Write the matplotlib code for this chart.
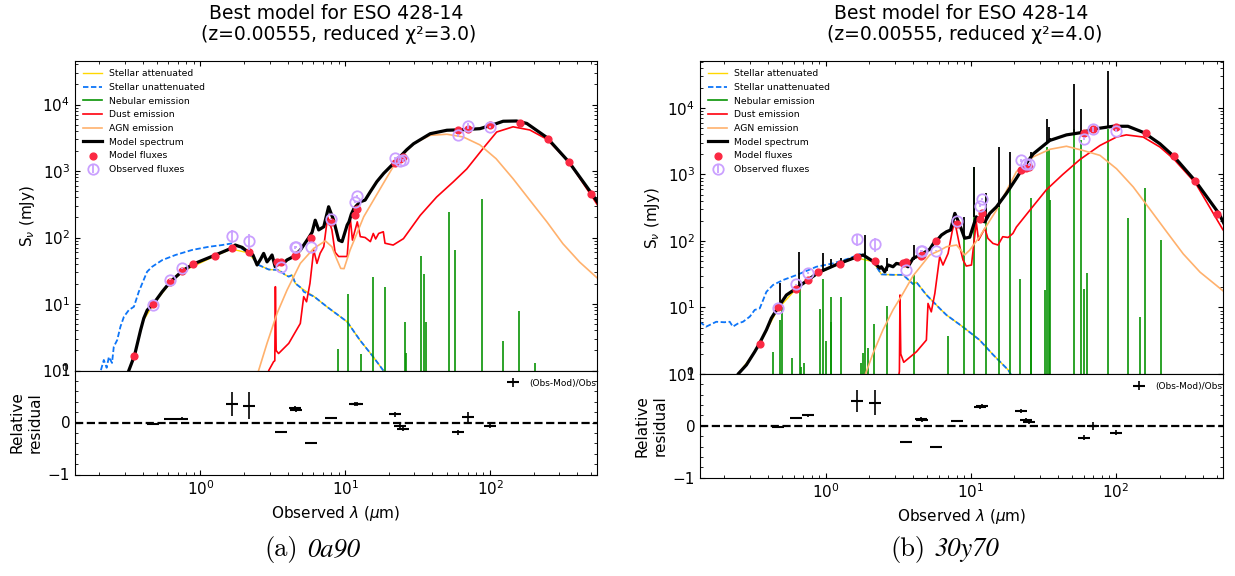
import matplotlib
matplotlib.use("Agg")
import matplotlib.pyplot as plt
from matplotlib.ticker import AutoMinorLocator
from matplotlib.lines import Line2D

# ---------------- photometric bands (same galaxy in both panels) ----------------
obs_lam = [0.47, 0.62, 0.75, 1.65, 2.17, 3.6, 4.5, 4.6, 5.8, 8.0, 11.6, 12.0,
           22.0, 24.0, 25.0, 60.0, 70.0, 100.0]
mod_lam = [0.35, 0.47, 0.62, 0.75, 0.89, 1.25, 1.65, 2.17, 3.4, 3.6, 4.5, 4.6, 5.8,
           8.0, 11.6, 12.0, 22.0, 24.0, 25.0, 60.0, 70.0, 100.0, 160.0, 250.0, 350.0, 500.0]

# ---------------- panel (a) 0a90 ----------------
A_title = "Best model for ESO 428-14\n (z=0.00555, reduced χ²=3.0)"
A_cap_tag = "(a)"
A_cap_name = "0a90"
A_mod_flux = [1.67, 10.0, 21.6, 31.8, 40.0, 52.7, 68.8, 60.4, 42.4, 43.0, 52.0, 54.0, 100.0,
              172.0, 220.0, 265.0, 1320.0, 1500.0, 1600.0, 4130.0, 4330.0, 4900.0, 5320.0,
              3020.0, 1365.0, 451.0]
A_obs_flux = [9.7, 23.2, 34.2, 107.0, 89.0, 36.1, 71.0, 72.0, 72.0, 187.0, 341.0, 420.0,
              1550.0, 1410.0, 1440.0, 3440.0, 4750.0, 4600.0]
A_resid = [-0.03, 0.07, 0.07, 0.355, 0.32, -0.19, 0.27, 0.25, -0.39, 0.08, 0.355, 0.355,
           0.155, -0.065, -0.12, -0.19, 0.11, -0.065]
A_rel_err = [0.01, 0.01, 0.03, 0.23, 0.26, 0.01, 0.04, 0.04, 0.01, 0.015, 0.04, 0.04,
             0.04, 0.04, 0.04, 0.05, 0.10, 0.05]

A_spec_lam = [0.29, 0.32, 0.35, 0.386, 0.406, 0.429, 0.472, 0.544, 0.62, 0.755, 0.895, 1.22,
              1.63, 1.74, 1.94, 2.13, 2.3, 2.46, 2.6, 2.73, 2.88, 3.0, 3.12, 3.28, 3.5, 3.7,
              3.96, 4.4, 4.9, 5.6, 5.9, 6.2, 6.55, 7.1, 7.67, 8.3, 9.0, 9.5, 10.3, 10.6, 11.0,
              11.5, 12.1, 12.7, 13.7, 14.9, 16.5, 18.4, 22.7, 26.5, 29.6, 38.6, 50.3, 65.2,
              85.0, 105.0, 123.0, 152.0, 179.0, 246.0, 350.0, 505.0, 600.0]
A_spec = [0.5, 1.0, 1.67, 4.06, 6.1, 8.1, 10.0, 15.3, 21.6, 31.8, 40.0, 52.7,
          68.8, 77.0, 71.0, 60.4, 55.0, 38.6, 47.0, 57.7, 43.0, 48.0, 54.6, 36.3, 43.0, 40.0,
          46.0, 51.8, 65.0, 100.0, 120.0, 182.0, 130.0, 145.0, 290.0, 183.0, 91.5, 86.7, 154.0,
          172.0, 224.0, 275.0, 310.0, 345.0, 365.0, 490.0, 690.0, 920.0, 1460.0, 2080.0, 2570.0,
          3640.0, 4100.0, 4180.0, 4330.0, 4970.0, 5600.0, 5650.0, 5200.0, 3200.0, 1365.0,
          451.0, 260.0]

A_unatt_lam = [0.19, 0.205, 0.215, 0.225, 0.233, 0.245, 0.252, 0.266, 0.28, 0.296, 0.32, 0.347,
               0.375, 0.396, 0.428, 0.464, 0.544, 0.672, 0.876, 1.14, 1.41, 1.65, 1.84, 2.15,
               2.52, 2.96, 3.46, 3.86, 4.07, 4.29, 4.52, 5.03, 5.16, 6.1, 7.46, 10.3, 12.6,
               15.6, 18.3, 20.0]
A_unatt = [0.6, 1.0, 1.44, 1.1, 1.6, 1.3, 2.28, 2.87, 4.55, 6.44, 8.1, 9.1,
           15.3, 20.4, 30.6, 36.4, 45.7, 54.6, 65.0, 72.5, 77.0, 81.6, 72.5, 59.0,
           38.6, 33.0, 32.5, 27.3, 25.8, 27.3, 20.4, 17.0, 15.3, 12.9, 9.1, 5.4, 2.87,
           1.6, 1.0, 0.7]

A_att_lam = [0.3, 0.32, 0.35, 0.4, 0.472, 0.62, 0.755, 1.22, 1.63, 2.13, 2.52, 2.96, 3.46,
             3.86, 4.07, 4.29, 4.52, 5.03, 6.1, 7.46, 10.3, 12.6, 15.6, 18.3, 20.0]
A_att = [0.5, 1.0, 1.6, 5.5, 9.8, 21.0, 31.0, 51.0, 67.0, 59.0, 38.6, 33.0, 32.5,
         27.3, 25.8, 27.3, 20.4, 17.0, 12.9, 9.1, 5.4, 2.87, 1.6, 1.0, 0.7]

A_agn_lam = [2.4, 2.52, 2.88, 3.38, 3.96, 4.89, 6.05, 7.28, 8.08, 8.7, 9.3, 9.8, 10.8, 13.4,
             18.3, 22.7, 29.6, 38.6, 50.3, 65.2, 85.0, 110.0, 144.0, 188.0, 247.0, 318.0,
             415.0, 556.0, 600.0]
A_agn = [0.7, 1.0, 2.56, 7.25, 16.2, 40.8, 68.5, 89.0, 72.5, 48.0, 34.3, 34.0, 65.0, 205.0,
         650.0, 1440.0, 2570.0, 3440.0, 3570.0, 3250.0, 2470.0, 1530.0, 766.0, 364.0, 171.0,
         80.7, 42.7, 24.0, 21.0]

A_dust_lam = [2.9, 2.96, 3.2, 3.26, 3.29, 3.33, 3.46, 4.07, 4.89, 5.16, 5.4, 5.7, 6.05, 6.37,
              6.7, 7.1, 7.55, 8.08, 8.5, 9.0, 10.3, 10.8, 11.2, 12.1, 12.7, 13.7, 14.9, 15.6,
              16.2, 17.0, 18.3, 18.8, 21.4, 25.2, 32.9, 42.7, 55.6, 69.0, 91.0, 111.0, 144.0,
              188.0, 247.0, 350.0, 517.0, 600.0]
A_dust = [0.6, 1.0, 1.36, 1.4, 18.2, 2.0, 1.8, 2.56, 5.1, 12.9, 10.8, 20.4, 65.0, 40.8,
          57.8, 72.5, 205.0, 130.0, 60.0, 51.8, 51.8, 205.0, 91.5, 172.0, 103.0, 100.0, 86.7,
          115.0, 95.0, 115.0, 122.0, 82.0, 77.0, 96.0, 215.0, 406.0, 685.0, 1075.0, 2290.0,
          3860.0, 4620.0, 4140.0, 3000.0, 1365.0, 383.0, 230.0]

A_neb_lam = [8.9, 10.5, 12.8, 15.5, 18.7, 25.9, 26.1, 33.5, 34.8, 35.8, 51.8, 57.3, 88.4,
             121.9, 157.7, 205.0]
A_neb = [2.1, 14.0, 1.77, 25.8, 18.0, 5.4, 1.85, 52.6, 28.0, 5.3, 244.0, 66.0, 382.0,
         2.77, 7.85, 1.31]

A_spike_lam = []
A_spike_base = []
A_spike_top = []

# ---------------- panel (b) 30y70 ----------------
B_title = "Best model for ESO 428-14\n (z=0.00555, reduced χ²=4.0)"
B_cap_tag = "(b)"
B_cap_name = "30y70"
B_mod_flux = [2.8, 10.0, 19.0, 25.6, 33.8, 44.7, 56.9, 49.5, 46.0, 48.0, 60.0, 62.0, 100.0,
              182.0, 214.0, 261.0, 1170.0, 1270.0, 1310.0, 4260.0, 4790.0, 5150.0, 4260.0,
              1870.0, 790.0, 257.0]
B_obs_flux = [9.8, 22.3, 32.7, 106.0, 90.0, 36.6, 70.6, 70.6, 71.5, 200.0, 336.0, 427.0,
              1630.0, 1440.0, 1420.0, 3460.0, 4790.0, 4560.0]
B_resid = [-0.02, 0.16, 0.2, 0.48, 0.45, -0.31, 0.14, 0.12, -0.41, 0.1, 0.36, 0.39,
           0.28, 0.11, 0.08, -0.23, 0.0, -0.13]
B_rel_err = [0.01, 0.01, 0.03, 0.22, 0.25, 0.01, 0.04, 0.04, 0.01, 0.015, 0.04, 0.04,
             0.04, 0.04, 0.04, 0.05, 0.08, 0.05]

B_spec_lam = [0.23, 0.249, 0.284, 0.324, 0.347, 0.39, 0.422, 0.469, 0.536, 0.618, 0.748, 0.895,
              1.2, 1.61, 1.81, 2.12, 2.36, 2.42, 2.55, 2.69, 2.91, 3.07, 3.24, 3.36, 3.69, 4.0,
              4.45, 5.21, 5.67, 5.8, 6.28, 6.8, 7.25, 7.76, 8.4, 9.07, 9.83, 10.9, 11.5, 12.5,
              13.5, 15.0, 17.6, 20.6, 22.4, 26.9, 35.0, 45.6, 57.4, 73.4, 95.6, 121.0, 156.0,
              201.0, 251.0, 354.0, 514.0, 600.0]
B_spec = [0.6, 1.0, 1.37, 2.16, 2.8, 4.6, 6.9, 10.0, 15.4, 19.0, 25.6, 33.8,
          44.7, 56.9, 61.6, 49.5, 38.9, 41.0, 34.4, 43.6, 41.0, 46.0, 45.0, 46.0, 41.0, 55.0,
          61.0, 75.0, 100.0, 100.0, 123.0, 138.0, 146.0, 260.0, 174.0, 110.0, 114.0, 231.0,
          205.0, 194.0, 260.0, 325.0, 520.0, 875.0, 1170.0, 2040.0, 3250.0, 3940.0, 4260.0,
          4890.0, 5310.0, 5310.0, 4260.0, 2900.0, 1870.0, 790.0, 257.0, 130.0]

B_unatt_lam = [0.135, 0.15, 0.176, 0.2, 0.218, 0.229, 0.25, 0.269, 0.3, 0.324, 0.351, 0.37,
               0.39, 0.433, 0.508, 0.628, 0.863, 1.12, 1.46, 1.72, 2.12, 2.42, 2.91, 3.41,
               4.0, 4.22, 4.94, 6.1, 6.8, 8.83, 11.5, 14.2, 18.1, 20.0]
B_unatt = [6.1, 5.15, 6.1, 6.0, 6.1, 5.15, 5.8, 6.1, 7.3, 9.2, 9.7, 12.9,
           17.2, 21.8, 25.9, 30.7, 41.0, 46.0, 55.0, 63.6, 49.0, 31.5, 31.0, 31.0,
           22.5, 24.0, 15.5, 9.7, 7.7, 5.1, 3.24, 1.96, 1.15, 0.8]

B_att_lam = [0.23, 0.249, 0.3, 0.347, 0.39, 0.469, 0.618, 0.748, 0.895, 1.2, 1.61, 2.12, 2.42,
             2.91, 3.41, 4.0, 4.22, 4.94, 6.1, 6.8, 8.83, 11.5, 14.2, 18.1, 20.0]
B_att = [0.6, 1.0, 1.7, 2.7, 4.5, 9.6, 18.5, 25.0, 33.0, 44.0, 56.0, 49.0, 31.5,
         31.0, 31.0, 22.5, 24.0, 15.5, 9.7, 7.7, 5.1, 3.24, 1.96, 1.15, 0.8]

B_agn_lam = [1.8, 1.88, 2.12, 2.48, 2.91, 3.41, 4.0, 4.45, 5.21, 6.1, 6.8, 7.98, 9.07, 9.83,
             11.5, 15.0, 20.6, 26.9, 35.0, 45.6, 59.3, 77.6, 101.0, 131.6, 171.0, 224.0,
             291.0, 380.0, 544.0, 600.0]
B_agn = [0.8, 1.0, 2.05, 4.6, 9.2, 16.3, 30.0, 40.0, 61.6, 72.0, 82.0, 87.0, 61.6, 73.0,
         116.0, 290.0, 1100.0, 1840.0, 2390.0, 2660.0, 2300.0, 1940.0, 1220.0, 650.0, 303.0,
         137.0, 64.0, 34.0, 18.0, 15.0]

B_dust_lam = [3.1, 3.2, 3.22, 3.25, 3.29, 3.45, 4.22, 4.94, 5.07, 5.34, 5.65, 6.1, 6.43, 6.97,
              7.47, 7.76, 8.4, 8.83, 9.3, 10.1, 10.9, 11.3, 12.5, 13.1, 14.2, 15.4, 16.6, 18.1,
              19.5, 20.6, 25.5, 33.2, 43.0, 56.5, 77.6, 101.0, 118.0, 154.0, 201.0, 251.0,
              354.0, 544.0, 600.0]
B_dust = [0.6, 1.0, 1.1, 15.4, 2.0, 1.5, 2.16, 3.24, 11.5, 8.6, 16.3, 58.0, 43.5, 65.0,
          146.0, 194.0, 82.0, 52.0, 42.0, 43.5, 194.0, 103.0, 155.0, 110.0, 92.0, 87.0, 116.0,
          113.0, 130.0, 162.0, 290.0, 590.0, 1000.0, 1680.0, 2730.0, 3660.0, 3940.0, 3660.0,
          2590.0, 1700.0, 740.0, 150.0, 110.0]

B_neb_lam = [0.434, 0.486, 0.501, 0.588, 0.66, 0.672, 0.707, 0.907, 0.953, 1.005, 1.083, 1.094,
             1.282, 1.74, 1.82, 1.875, 1.945, 2.166, 2.626, 4.05, 6.99, 8.99, 10.51, 12.81,
             15.56, 18.71, 21.83, 25.89, 26.0, 32.6, 33.48, 34.81, 35.35, 51.81, 57.32, 60.0,
             63.18, 88.36, 121.9, 145.5, 157.7, 205.0]
B_neb = [2.17, 6.5, 10.1, 1.72, 19.4, 1.29, 1.45, 9.4, 26.6, 3.16, 14.2, 6.1,
         14.2, 1.45, 2.1, 68.9, 2.43, 5.6, 10.5, 30.7, 3.7, 123.0, 1300.0, 310.0,
         410.0, 700.0, 27.0, 440.0, 148.0, 18.5, 2590.0, 2300.0, 420.0, 4890.0, 3250.0, 19.2,
         33.0, 4890.0, 220.0, 7.2, 625.0, 105.0]

B_spike_lam = [0.486, 0.656, 0.953, 1.083, 1.282, 1.875, 2.626, 4.05, 8.99, 10.51, 12.81,
               15.56, 18.71, 25.89, 33.48, 34.81, 35.35, 51.81, 57.32, 88.36]
B_spike_base = [10.5, 20.0, 34.0, 40.0, 46.0, 60.0, 36.0, 52.0, 108.0, 231.0, 200.0,
                330.0, 650.0, 1900.0, 3000.0, 3150.0, 3200.0, 4150.0, 4260.0, 5200.0]
B_spike_top = [23.0, 68.8, 65.0, 52.8, 55.0, 123.0, 55.0, 87.0, 230.0, 1310.0, 520.0,
               2590.0, 2200.0, 2200.0, 6870.0, 5160.0, 3600.0, 23200.0, 9500.0, 35700.0]

# ---------------- styles ----------------
C_ATT = "gold"
C_UNATT = "#0d75f8"
C_NEB = "#089404"
C_DUST = "#ff000d"
C_AGN = "#ffb16d"
C_MODF = "#fb2943"
C_OBS = "#caa0ff"
XLIM = (0.136, 547.0)

plt.rcParams["font.family"] = ["DejaVu Sans"]

W, H = 1235, 576
fig = plt.figure(figsize=(W / 100, H / 100), dpi=100)


def axpos(x0, x1, y0, y1):
    return [x0 / W, 1 - y1 / H, (x1 - x0) / W, (y1 - y0) / H]


def panel(ax1, ax2, title, cap_tag, cap_name, cap_x, ytop, mod_flux, obs_flux, resid,
          rel_err, spec_lam, spec, unatt_lam, unatt, att_lam, att, agn_lam, agn, dust_lam,
          dust, neb_lam, neb, spk_lam, spk_base, spk_top):
    h_att, = ax1.plot(att_lam, att, color=C_ATT, lw=1.0)
    h_un, = ax1.plot(unatt_lam, unatt, color=C_UNATT, lw=1.3, ls=(0, (3, 1.4)))
    ax1.vlines(neb_lam, 1e-3, neb, color=C_NEB, lw=1.2)
    h_neb = Line2D([], [], color=C_NEB, lw=1.2)
    h_dust, = ax1.plot(dust_lam, dust, color=C_DUST, lw=1.2)
    h_agn, = ax1.plot(agn_lam, agn, color=C_AGN, lw=1.2)
    if len(spk_lam):
        ax1.vlines(spk_lam, spk_base, spk_top, color="k", lw=1.3, zorder=2.1)
    h_mod, = ax1.plot(spec_lam, spec, color="k", lw=2.3, zorder=2.2)
    h_mf = ax1.scatter(mod_lam, mod_flux, s=24, color=C_MODF, zorder=3)
    yerr_main = [e * o for e, o in zip(rel_err, obs_flux)]
    h_of = ax1.errorbar(obs_lam, obs_flux, yerr=yerr_main, ls="", marker="o",
                        markerfacecolor="none", markersize=7.5, markeredgecolor=C_OBS,
                        color=C_OBS, capsize=0, zorder=3, elinewidth=1.3, mew=1.3)
    ax1.set_xscale("log")
    ax1.set_yscale("log")
    ax1.set_xlim(*XLIM)
    ax1.set_ylim(1.0, ytop)
    ax1.legend([h_att, h_un, h_neb, h_dust, h_agn, h_mod, h_mf, h_of],
               ["Stellar attenuated", "Stellar unattenuated", "Nebular emission",
                "Dust emission", "AGN emission", "Model spectrum", "Model fluxes",
                "Observed fluxes"],
               fontsize=6.7, loc="upper left", frameon=False)
    ax1.tick_params(direction="in", axis="both", which="both", top=True, left=True,
                    right=True, bottom=False, labelbottom=False, labelsize=11)
    ax1.tick_params(which="major", length=3.5)
    ax1.tick_params(which="minor", length=2)
    ax1.set_ylabel(r"S$_\nu$ (mJy)", fontsize=11)
    ax1.set_title(title, fontsize=13.5, pad=15, linespacing=1.12)

    ax2.errorbar(obs_lam, resid, yerr=rel_err, marker="_", color="k", capsize=0,
                 ls="None", markersize=8, mew=1.5, elinewidth=1.2, label="(Obs-Mod)/Obs")
    ax2.plot(XLIM, [0.0, 0.0], ls="--", color="k", lw=1.6)
    ax2.set_xscale("log")
    ax2.set_xlim(*XLIM)
    ax2.set_ylim(-1, 1)
    ax2.set_yticks([-1, 0, 1])
    ax2.yaxis.set_minor_locator(AutoMinorLocator(5))
    ax2.tick_params(direction="in", axis="both", which="both", right=True, labelsize=11)
    ax2.tick_params(which="major", length=3.5)
    ax2.tick_params(which="minor", length=2)
    ax2.legend(fontsize=6.5, loc="upper right", frameon=False,
               bbox_to_anchor=(1.015, 1.0))
    ax2.set_xlabel(r"Observed $\lambda$ ($\mu$m)", fontsize=11)
    ax2.set_ylabel("Relative\nresidual", fontsize=11)

    # caption: upright tag + italic name, centred as a pair
    t1 = fig.text((cap_x - 14) / W, 1 - 548 / H, cap_tag, ha="right", va="baseline",
                  fontsize=19, family="cmr10")
    t1.set_y(1 - 556 / H)
    fig.text((cap_x - 5) / W, 1 - 556 / H, cap_name, ha="left", va="baseline",
             fontsize=19, family="STIXGeneral", style="italic")


axA1 = fig.add_axes(axpos(75, 597, 61, 370.5))
axA2 = fig.add_axes(axpos(75, 597, 370.5, 474.5))
axB1 = fig.add_axes(axpos(700, 1223, 61, 374))
axB2 = fig.add_axes(axpos(700, 1223, 374, 477.7))

panel(axA1, axA2, A_title, A_cap_tag, A_cap_name, 312, 45100, A_mod_flux, A_obs_flux,
      A_resid, A_rel_err, A_spec_lam, A_spec, A_unatt_lam, A_unatt, A_att_lam, A_att,
      A_agn_lam, A_agn, A_dust_lam, A_dust, A_neb_lam, A_neb,
      A_spike_lam, A_spike_base, A_spike_top)
panel(axB1, axB2, B_title, B_cap_tag, B_cap_name, 940, 50900, B_mod_flux, B_obs_flux,
      B_resid, B_rel_err, B_spec_lam, B_spec, B_unatt_lam, B_unatt, B_att_lam, B_att,
      B_agn_lam, B_agn, B_dust_lam, B_dust, B_neb_lam, B_neb,
      B_spike_lam, B_spike_base, B_spike_top)

fig.savefig("out.png", dpi=100)
